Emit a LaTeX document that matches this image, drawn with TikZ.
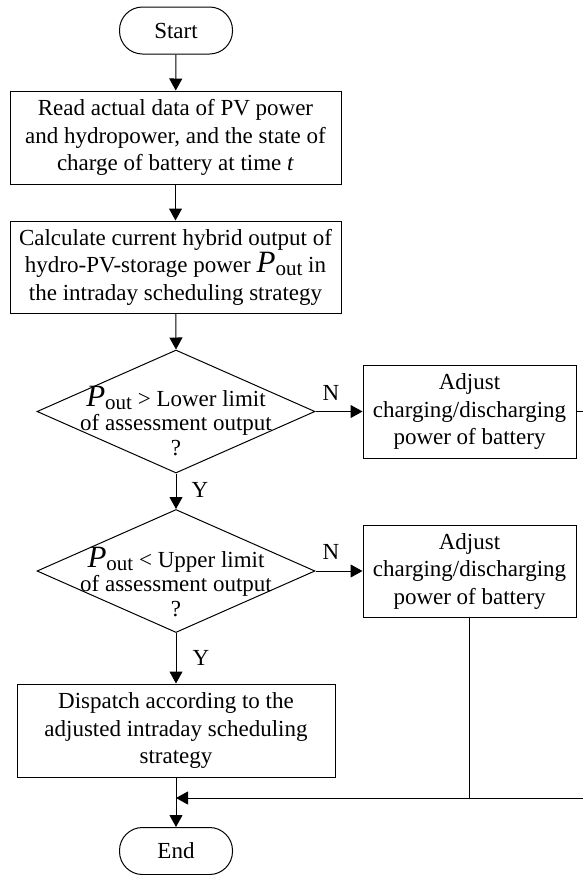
\documentclass[tikz,border=0pt]{standalone}
\usepackage{fontspec}
\setmainfont{Liberation Serif}
\usetikzlibrary{shapes.geometric,arrows.meta}
\newcommand{\Pout}{{\fontsize{15.5}{15.5}\selectfont\itshape P}\raisebox{-0.3ex}{\fontsize{10.5}{10.5}\selectfont out}}
\begin{document}
\begin{tikzpicture}[x=0.5pt,y=-0.5pt,
  every node/.style={font=\fontsize{11.5}{13.75}\selectfont},
  term/.style={draw,rounded corners=11.5pt,minimum width=56.5pt,minimum height=23.5pt,inner sep=0pt},
  proc/.style={draw,align=center,inner sep=0pt},
  dia/.style={draw,diamond,inner sep=0pt,minimum width=139pt,minimum height=61.5pt},
  diatext/.style={align=center,inner sep=0pt,font=\fontsize{11.5}{12.25}\selectfont},
  lbl/.style={inner sep=0pt},
  arr/.style={-{Triangle[length=6pt,width=6.5pt]}},
  line width=0.5pt]
\useasboundingbox (0,0) rectangle (583,875);
\node[term] (start) at (176,30.5) {Start};
\node[proc,minimum width=165.5pt,minimum height=46.5pt] (read) at (175.5,137.5)
  {Read actual data of PV power\\and hydropower, and the state of\\charge of battery at time \textit{t}};
\node[proc,minimum width=165.5pt,minimum height=46pt] (calc) at (175.5,267)
  {Calculate current hybrid output of\\hydro-PV-storage power \Pout{} in\\the intraday scheduling strategy};
\node[dia] (d1) at (176,411.5) {};
\node[diatext] (d1t) at (176,421) {\Pout{} > Lower limit\\of assessment output\\?};
\node[proc,minimum width=106.5pt,minimum height=46.5pt] (adj1) at (469.5,411.5)
  {Adjust\\charging/discharging\\power of battery};
\node[dia] (d2) at (176,571) {};
\node[diatext] (d2t) at (176,582) {\Pout{} < Upper limit\\of assessment output\\?};
\node[proc,minimum width=106.5pt,minimum height=46pt] (adj2) at (469.5,571)
  {Adjust\\charging/discharging\\power of battery};
\node[proc,minimum width=159pt,minimum height=46.5pt] (disp) at (176,730.5)
  {Dispatch according to the\\adjusted intraday scheduling\\strategy};
\node[term] (end) at (176,851) {End};
\node[lbl] (n1) at (331,393) {N};
\node[lbl] (n2) at (331,552) {N};
\node[lbl] (y1) at (200,490) {Y};
\node[lbl] (y2) at (201,658) {Y};
\coordinate (j) at (176,798);
\coordinate (r1) at (583,411.5);
\coordinate (r2) at (583,798);
\coordinate (b2) at (adj2.south |- j);
\draw[arr] (start) -- (read);
\draw[arr] (read) -- (calc);
\draw[arr] (calc) -- (d1.north);
\draw[arr] (d1.south) -- (d2.north);
\draw[arr] (d1.east) -- (adj1.west);
\draw[arr] (d2.east) -- (adj2.west);
\draw[arr] (d2.south) -- (disp.north);
\draw[arr] (disp) -- (end);
\draw (adj1.east) -- (r1);
\draw (adj2.south) -- (b2);
\draw[arr] (r2) -- (j);
\end{tikzpicture}
\end{document}
